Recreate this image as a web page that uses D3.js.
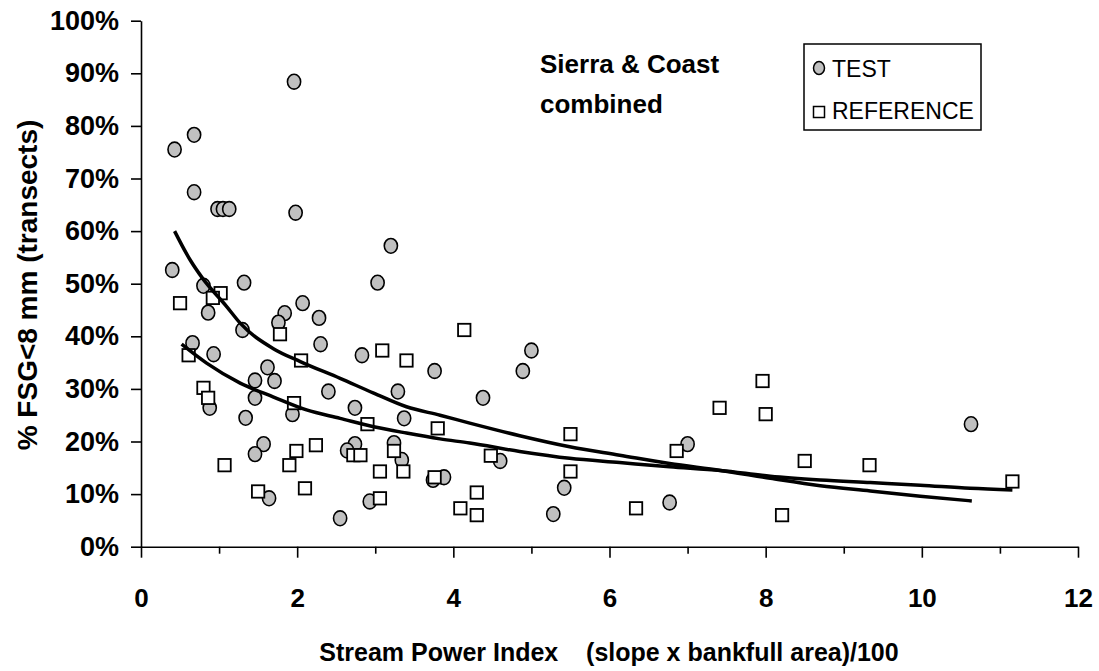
<!DOCTYPE html>
<html lang="en">
<head>
<meta charset="UTF-8">
<title>FSG vs Stream Power Index</title>
<script src="https://d3js.org/d3.v7.min.js"></script>
<style>
  body { margin: 0; background: #fff; }
  text { font-family: "Liberation Sans", Arial, sans-serif; fill: #000; }
</style>
</head>
<body>
<svg id="chart" width="1099" height="671"></svg>
<script>
// TEST sites: stream power index and % FSG < 8 mm
const testIndex = [1.96, 0.68, 0.43, 0.68, 0.98, 1.05, 1.13, 1.98, 3.20, 0.40,
  0.80, 1.32, 3.03, 0.86, 1.84, 2.07, 2.28, 1.76, 1.30, 2.30,
  0.66, 0.93, 2.83, 3.76, 1.62, 1.46, 1.71, 2.40, 3.29, 1.46,
  0.88, 2.74, 3.37, 1.34, 1.94, 1.57, 1.46, 2.74, 2.64, 3.24,
  3.34, 1.64, 2.93, 2.55, 3.74, 5.00, 4.89, 4.38, 4.60, 3.88,
  5.42, 5.28, 6.77, 7.00, 10.63];
const testPct = [88.4, 78.3, 75.5, 67.4, 64.2, 64.2, 64.2, 63.5, 57.2, 52.6,
  49.6, 50.2, 50.2, 44.5, 44.4, 46.3, 43.5, 42.6, 41.2, 38.5,
  38.7, 36.6, 36.4, 33.4, 34.1, 31.6, 31.5, 29.5, 29.5, 28.3,
  26.4, 26.4, 24.4, 24.5, 25.2, 19.5, 17.6, 19.5, 18.3, 19.7,
  16.5, 9.2, 8.6, 5.4, 12.7, 37.3, 33.4, 28.3, 16.3, 13.2,
  11.2, 6.2, 8.4, 19.5, 23.3];

// REFERENCE sites
const refIndex = [0.50, 1.02, 0.92, 1.78, 2.05, 3.09, 3.40, 0.61, 0.80, 0.86,
  1.96, 2.90, 3.80, 1.07, 1.99, 2.24, 1.90, 2.72, 2.81, 3.24,
  3.06, 3.36, 3.76, 1.50, 2.10, 3.06, 4.14, 5.50, 4.48, 5.50,
  4.30, 4.09, 4.30, 6.34, 6.86, 7.41, 7.96, 8.00, 8.50, 9.33,
  8.21, 11.16];
const refPct = [46.3, 48.2, 47.3, 40.4, 35.4, 37.3, 35.4, 36.4, 30.2, 28.3,
  27.3, 23.3, 22.5, 15.5, 18.2, 19.3, 15.5, 17.4, 17.4, 18.2,
  14.3, 14.3, 13.2, 10.5, 11.1, 9.2, 41.2, 21.4, 17.3, 14.3,
  10.3, 7.3, 6.0, 7.3, 18.2, 26.4, 31.5, 25.2, 16.3, 15.5,
  6.0, 12.4];

// trend lines
const testFitIndex = [0.43, 0.63, 0.78, 1.10, 1.27, 1.69, 2.04, 2.55, 2.98, 3.40, 3.83,
  4.21, 4.85, 5.49, 6.13, 6.77, 7.42, 8.06, 8.70, 9.34, 9.98, 10.64];
const testFitPct = [60.0, 54.5, 51.2, 45.6, 42.5, 37.7, 35.2, 32.0, 29.2, 26.6, 25.0,
  23.5, 21.1, 19.0, 17.4, 15.8, 14.5, 13.0, 11.6, 10.6, 9.6, 8.7];
const refFitIndex = [0.52, 0.84, 1.27, 1.69, 2.12, 2.55, 2.98, 3.40, 3.83, 4.21,
  4.85, 5.49, 6.13, 6.77, 7.42, 8.06, 8.70, 9.34, 9.98, 10.62, 11.16];
const refFitPct = [38.5, 34.9, 31.1, 28.5, 26.0, 24.4, 22.8, 21.6, 20.5, 19.7,
  18.1, 16.8, 16.0, 15.2, 14.5, 13.4, 12.7, 12.2, 11.7, 11.1, 10.8];

const xTicks = d3.range(0, 13, 1);
const yTicks = d3.range(0, 101, 10);

const svg = d3.select('#chart');

const x = d3.scaleLinear().domain([0, 12]).range([141, 1078]);
const y = d3.scaleLinear().domain([0, 100]).range([546.7, 20.7]);

// axes
const yAxis = svg.append('g')
  .attr('transform', `translate(${x(0)},0)`)
  .call(d3.axisLeft(y).tickValues(yTicks).tickSize(10).tickSizeOuter(0)
    .tickFormat(d => d + '%'));
yAxis.selectAll('text')
  .attr('x', -22)
  .style('font-size', '27px').style('font-weight', 'bold');

const xAxis = svg.append('g')
  .attr('transform', `translate(0,${y(0)})`)
  .call(d3.axisBottom(x).tickValues(xTicks).tickSize(10).tickSizeOuter(0)
    .tickFormat(d => d % 2 === 0 ? d : ''));
xAxis.selectAll('.tick line').attr('y2', d => d % 2 === 0 ? 11 : 7);
xAxis.selectAll('text')
  .attr('y', 0).attr('dy', null)
  .attr('transform', 'translate(0,60)')
  .style('font-size', '26px').style('font-weight', 'bold');

svg.selectAll('.domain, .tick line').attr('stroke', '#000').attr('stroke-width', 1.6);

// markers: TEST underneath, REFERENCE on top
svg.append('g').selectAll('ellipse')
  .data(testIndex.map((v, i) => [v, testPct[i]]))
  .join('ellipse')
  .attr('cx', d => x(d[0])).attr('cy', d => y(d[1]))
  .attr('rx', 6.6).attr('ry', 7.4)
  .attr('fill', '#c0c0c0').attr('stroke', '#000').attr('stroke-width', 1.6);

svg.append('g').selectAll('rect')
  .data(refIndex.map((v, i) => [v, refPct[i]]))
  .join('rect')
  .attr('x', d => x(d[0]) - 6.2).attr('y', d => y(d[1]) - 6.2)
  .attr('width', 12.4).attr('height', 12.4)
  .attr('fill', '#fff').attr('stroke', '#000').attr('stroke-width', 1.8);

// trend lines
const line = d3.line()
  .x(d => x(d[0]))
  .y(d => y(d[1]))
  .curve(d3.curveMonotoneX);

svg.append('path')
  .attr('d', line(testFitIndex.map((v, i) => [v, testFitPct[i]])))
  .attr('fill', 'none').attr('stroke', '#000').attr('stroke-width', 3.5);
svg.append('path')
  .attr('d', line(refFitIndex.map((v, i) => [v, refFitPct[i]])))
  .attr('fill', 'none').attr('stroke', '#000').attr('stroke-width', 3.5);

// annotation
svg.append('text').attr('x', 540).attr('y', 73)
  .style('font-size', '26px').style('font-weight', 'bold').text('Sierra & Coast');
svg.append('text').attr('x', 540).attr('y', 113)
  .style('font-size', '26px').style('font-weight', 'bold').text('combined');

// legend
const lg = svg.append('g');
lg.append('rect').attr('x', 804).attr('y', 44).attr('width', 177).attr('height', 86)
  .attr('fill', '#fff').attr('stroke', '#000').attr('stroke-width', 1.5);
lg.append('ellipse').attr('cx', 819).attr('cy', 68).attr('rx', 5.5).attr('ry', 6.5)
  .attr('fill', '#c0c0c0').attr('stroke', '#000').attr('stroke-width', 1.5);
lg.append('rect').attr('x', 813.5).attr('y', 106.5).attr('width', 11).attr('height', 11)
  .attr('fill', '#fff').attr('stroke', '#000').attr('stroke-width', 1.5);
lg.append('text').attr('x', 832).attr('y', 77).style('font-size', '23px').text('TEST');
lg.append('text').attr('x', 832).attr('y', 119).style('font-size', '23px').text('REFERENCE');

// axis titles
svg.append('text')
  .attr('transform', 'translate(37,285) rotate(-90)')
  .attr('text-anchor', 'middle')
  .style('font-size', '28px').style('font-weight', 'bold')
  .text('% FSG<8 mm (transects)');

svg.append('text')
  .attr('x', 609).attr('y', 661)
  .attr('text-anchor', 'middle')
  .style('font-size', '25px').style('font-weight', 'bold')
  .style('white-space', 'pre')
  .text('Stream Power Index    (slope x bankfull area)/100');
</script>
</body>
</html>
